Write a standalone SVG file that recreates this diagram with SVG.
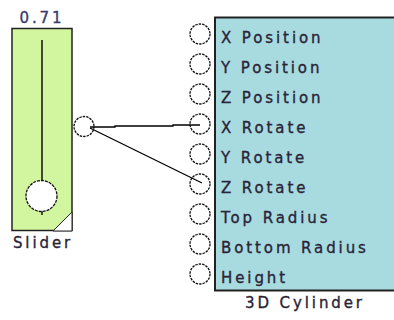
<svg xmlns="http://www.w3.org/2000/svg" width="394" height="320" viewBox="0 0 394 320">
<style>
text{font-family:"DejaVu Sans","Liberation Sans",sans-serif;font-size:15px;letter-spacing:2.9px;fill:#2a2438;stroke:#2a2438;stroke-width:0.35}
.port{fill:#fff;stroke:#111;stroke-width:1.3;stroke-dasharray:2.5 1}
.wire{stroke:#000;stroke-width:1.3;fill:none}
</style>
<rect width="394" height="320" fill="#fff"/>
<g id="slider">
<text x="42" y="23" text-anchor="middle" style="fill:#3a3a6a;stroke:#3a3a6a">0.71</text>
<rect x="12" y="28.5" width="60" height="202" fill="#d2f5a0" stroke="#222" stroke-width="1.5"/>
<line x1="42" y1="40" x2="42" y2="215" stroke="#111" stroke-width="1.5"/>
<circle cx="41.5" cy="196" r="15.5" fill="#fff" stroke="#111" stroke-width="1.3" stroke-dasharray="3 1"/>
<polygon points="53,231 72,212 72,231" fill="#fff" stroke="#222" stroke-width="1"/>
<circle class="port" cx="84" cy="126.5" r="10"/>
<text x="43" y="248" text-anchor="middle">Slider</text>
</g>
<g id="cylinder">
<rect x="215" y="17.5" width="190" height="273" fill="#a8dbe0" stroke="#222" stroke-width="2"/>
<circle class="port" cx="200" cy="34" r="10"/>
<circle class="port" cx="200" cy="64" r="10"/>
<circle class="port" cx="200" cy="94" r="10"/>
<circle class="port" cx="200" cy="124" r="10"/>
<circle class="port" cx="200" cy="154" r="10"/>
<circle class="port" cx="200" cy="184" r="10"/>
<circle class="port" cx="200" cy="214" r="10"/>
<circle class="port" cx="200" cy="244" r="10"/>
<circle class="port" cx="200" cy="274" r="10"/>
<text x="221" y="43">X Position</text>
<text x="221" y="73">Y Position</text>
<text x="221" y="103">Z Position</text>
<text x="221" y="133">X Rotate</text>
<text x="221" y="163">Y Rotate</text>
<text x="221" y="193">Z Rotate</text>
<text x="221" y="223">Top Radius</text>
<text x="221" y="253">Bottom Radius</text>
<text x="221" y="283">Height</text>
<text x="305" y="308" text-anchor="middle">3D Cylinder</text>
</g>
<g id="connectors">
<polyline class="wire" points="90,127 115,127 115,126 173,126 173,125 200,125"/>
<line class="wire" x1="90" y1="128" x2="202" y2="183"/>
</g>
</svg>
